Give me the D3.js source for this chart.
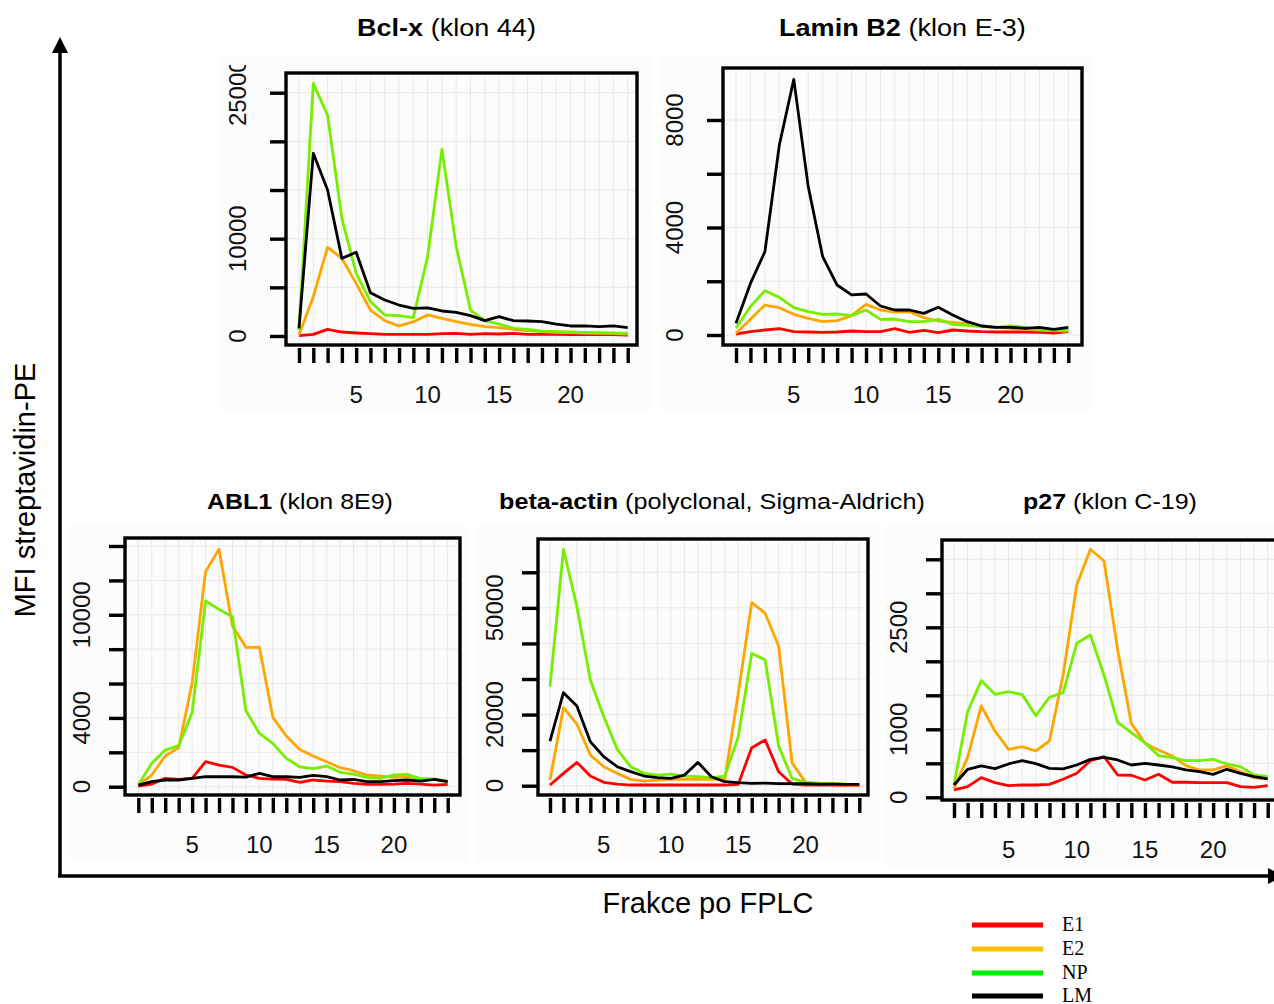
<!DOCTYPE html>
<html>
<head>
<meta charset="utf-8">
<script src="https://cdn.jsdelivr.net/npm/d3@7"></script>
<style>
  body { margin: 0; background: #fff; }
  svg { display: block; font-family: "Liberation Sans", Arial, sans-serif; }
</style>
</head>
<body>
<svg id="chart"></svg>
<script>
// FPLC fractions 1..24
const fractions = [1,2,3,4,5,6,7,8,9,10,11,12,13,14,15,16,17,18,19,20,21,22,23,24];
const fractionLabels = [5, 10, 15, 20];
const seriesNames = ["E1", "E2", "NP", "LM"];

// Bcl-x (klon 44)
const bclE1 = [30,170,685,410,310,240,170,170,170,170,240,270,170,240,205,270,170,170,170,140,170,140,140,100];
const bclE2 = [100,4040,9110,7980,5410,2670,1575,1030,1470,2160,1815,1470,1200,960,860,685,550,445,380,340,310,270,240,205];
const bclNP = [600,25960,22700,12090,6440,3530,2160,2090,1880,8150,19180,9180,2670,1575,1230,790,685,510,445,410,380,340,310,270];
const bclLM = [790,18770,15000,7980,8600,4450,3700,3180,2840,2880,2570,2430,2090,1575,1990,1575,1540,1470,1230,1030,1030,960,1030,860];
const bclTicks = [0,5000,10000,15000,20000,25000];
const bclLabels = [0,10000,25000];

// Lamin B2 (klon E-3)
const laminE1 = [37,124,186,236,124,112,99,112,149,124,124,236,99,174,87,186,149,124,112,112,112,99,74,124];
const laminE2 = [62,583,1116,1017,769,620,496,533,719,1141,930,856,868,645,521,471,409,335,285,248,210,186,161,149];
const laminNP = [248,1054,1650,1400,1017,868,769,781,719,930,583,595,496,496,583,397,360,310,285,335,285,210,186,161];
const laminLM = [434,1920,3100,7070,9510,5520,2915,1860,1490,1525,1080,930,930,806,1030,744,496,335,285,285,248,285,210,285];
const laminTicks = [0,2000,4000,6000,8000];
const laminLabels = [0,4000,8000];

// ABL1 (klon 8E9)
const ablE1 = [40,155,485,425,485,1455,1260,1125,680,485,445,425,250,390,330,290,195,135,135,155,195,155,97,135];
const ablE2 = [97,680,1785,2270,6010,12510,13810,9350,8105,8105,4035,2950,2170,1785,1455,1105,930,680,620,545,580,485,445,290];
const ablNP = [97,1357,2130,2385,4305,10800,10315,9890,4420,3100,2520,1650,1160,1045,1200,835,735,545,485,680,715,445,425,330];
const ablLM = [97,290,390,390,485,580,580,580,560,775,580,580,545,660,580,390,425,290,290,350,390,330,425,290];
const ablTicks = [0,2000,4000,6000,8000,10000,12000,14000];
const ablLabels = [0,4000,10000];

// beta-actin (polyclonal, Sigma-Aldrich)
const actinE1 = [190,3470,6560,2720,940,470,190,190,190,190,190,190,190,190,375,10690,12840,3940,470,190,190,190,100,100];
const actinE2 = [1590,21940,17340,8625,5340,3470,1780,1310,1590,1780,1780,1780,1780,1780,25970,51470,48470,39280,6470,940,660,470,190,190];
const actinNP = [27840,66470,50340,29720,19400,10220,5340,3470,3000,3280,2720,2530,2250,2720,13780,37220,35340,11160,2060,940,660,660,470,375];
const actinLM = [12560,26160,22410,12375,8156,5340,3940,2720,2250,2060,3000,6560,2530,1125,845,660,750,560,560,560,470,470,375,375];
const actinTicks = [0,10000,20000,30000,40000,50000,60000];
const actinLabels = [0,20000,50000];

// p27 (klon C-19)
const p27E1 = [108,157,289,216,172,181,181,191,265,353,539,598,328,324,255,338,221,221,216,216,216,157,147,172];
const p27E2 = [132,588,1343,975,706,745,681,828,1799,3123,3647,3475,2167,1088,794,696,608,466,402,402,461,377,289,270];
const p27NP = [181,1260,1716,1515,1554,1510,1201,1471,1539,2265,2387,1799,1103,951,804,613,583,539,539,559,490,451,328,304];
const p27LM = [181,412,461,422,490,539,495,426,417,475,559,588,549,475,500,475,446,402,377,338,412,353,304,270];
const p27Ticks = [0,500,1000,1500,2000,2500,3000,3500];
const p27Labels = [0,1000,2500];

const lineColors = ["#ff0000", "#ffa500", "#76ee00", "#000000"];
const legendColors = ["#ff0000", "#ffc000", "#00ee00", "#000000"];

const W = 1274, H = 1004;
const svg = d3.select("#chart").attr("width", W).attr("height", H);

const panels = [
  { bold: "Bcl-x", rest: " (klon 44)", tx: [357, 536], ty: 36, tfs: 24,
    bg: [222, 55, 428, 357], box: [286, 73, 637, 345], xr: [299, 627.7],
    yr: [336, 92.7], top: 25000, ticks: bclTicks, labels: bclLabels, lab: 40.5,
    clipTop: 65, series: [bclE1, bclE2, bclNP, bclLM] },
  { bold: "Lamin B2", rest: " (klon E-3)", tx: [779, 1026], ty: 36, tfs: 24,
    bg: [660, 55, 430, 357], box: [723, 68, 1082, 345], xr: [736, 1068.3],
    yr: [335, 120], top: 8000, ticks: laminTicks, labels: laminLabels, lab: 40.5,
    series: [laminE1, laminE2, laminNP, laminLM] },
  { bold: "ABL1", rest: " (klon 8E9)", tx: [207, 393], ty: 509, tfs: 22,
    bg: [66, 526, 402, 336], box: [125, 538, 460, 795], xr: [138.3, 447.7],
    yr: [786.7, 546], top: 14000, ticks: ablTicks, labels: ablLabels, lab: 35,
    series: [ablE1, ablE2, ablNP, ablLM] },
  { bold: "beta-actin", rest: " (polyclonal, Sigma-Aldrich)", tx: [499, 925], ty: 509, tfs: 22,
    bg: [476, 526, 404, 336], box: [538, 539, 868, 795], xr: [550, 859.3],
    yr: [785.7, 572.3], top: 60000, ticks: actinTicks, labels: actinLabels, lab: 35.5,
    series: [actinE1, actinE2, actinNP, actinLM] },
  { bold: "p27", rest: " (klon C-19)", tx: [1023, 1197], ty: 509, tfs: 22,
    bg: [886, 526, 388, 340], box: [942, 540, 1285, 800], xr: [954, 1267.7],
    yr: [797.3, 559.3], top: 3500, ticks: p27Ticks, labels: p27Labels, lab: 35.5,
    series: [p27E1, p27E2, p27NP, p27LM] }
];

panels.forEach((p, pi) => {
  const g = svg.append("g");
  const [bl, bt, br, bb] = p.box;

  g.append("rect")
    .attr("x", p.bg[0]).attr("y", p.bg[1])
    .attr("width", p.bg[2]).attr("height", p.bg[3])
    .attr("fill", "#fcfcfc");

  const x = d3.scaleLinear().domain([1, 24]).range(p.xr);
  const y = d3.scaleLinear().domain([0, p.top]).range(p.yr);

  // grid
  g.append("g").selectAll("line").data(fractions).join("line")
    .attr("x1", d => x(d)).attr("x2", d => x(d))
    .attr("y1", bt).attr("y2", bb)
    .attr("stroke", "#e8e8e8").attr("stroke-width", 1);
  g.append("g").selectAll("line").data(p.ticks).join("line")
    .attr("x1", bl).attr("x2", br)
    .attr("y1", d => y(d)).attr("y2", d => y(d))
    .attr("stroke", "#e8e8e8").attr("stroke-width", 1);

  // lines
  const line = d3.line().x((d, i) => x(fractions[i])).y(d => y(d));
  p.series.forEach((s, si) => {
    g.append("path").datum(s)
      .attr("d", line)
      .attr("fill", "none")
      .attr("stroke", lineColors[si])
      .attr("stroke-width", 2.8)
      .attr("stroke-linejoin", "round");
  });

  // box
  g.append("rect")
    .attr("x", bl).attr("y", bt)
    .attr("width", br - bl).attr("height", bb - bt)
    .attr("fill", "none").attr("stroke", "#000").attr("stroke-width", 3.4);

  // x axis ticks
  const xAxis = g.append("g")
    .attr("transform", `translate(0,${bb + 3})`)
    .call(d3.axisBottom(x).tickValues(fractions).tickSize(15).tickFormat(""));
  xAxis.select(".domain").remove();
  xAxis.selectAll(".tick line").attr("stroke-width", 3.4);

  g.append("g").selectAll("text").data(fractionLabels).join("text")
    .attr("x", d => x(d)).attr("y", bb + 58)
    .attr("text-anchor", "middle")
    .attr("font-size", 24).attr("fill", "#111")
    .text(d => d);

  // y axis ticks
  const yAxis = g.append("g")
    .attr("transform", `translate(${bl - 1},0)`)
    .call(d3.axisLeft(y).tickValues(p.ticks).tickSize(15).tickFormat(""));
  yAxis.select(".domain").remove();
  yAxis.selectAll(".tick line").attr("stroke-width", 3.4);

  let labG = g.append("g");
  if (p.clipTop) {
    svg.append("clipPath").attr("id", "clip" + pi)
      .append("rect").attr("x", 0).attr("y", p.clipTop).attr("width", W).attr("height", H);
    labG.attr("clip-path", `url(#clip${pi})`);
  }
  labG.selectAll("text").data(p.labels).join("text")
    .attr("transform", d => `translate(${bl - p.lab},${y(d)}) rotate(-90)`)
    .attr("text-anchor", "middle")
    .attr("font-size", 24).attr("fill", "#111")
    .text(d => d);

  // title, stretched to the width seen in the figure
  const t = svg.append("text")
    .attr("x", 0).attr("y", 0)
    .attr("font-size", p.tfs).attr("fill", "#000");
  t.append("tspan").attr("font-weight", "bold").text(p.bold);
  t.append("tspan").text(p.rest);
  const w = t.node().getComputedTextLength();
  const sx = (p.tx[1] - p.tx[0]) / w;
  t.attr("transform", `translate(${p.tx[0]},${p.ty}) scale(${sx},1)`);
});

// main axes with arrows
svg.append("line").attr("x1", 60).attr("x2", 60).attr("y1", 50).attr("y2", 877)
  .attr("stroke", "#000").attr("stroke-width", 3.5);
svg.append("path").attr("d", "M52,53 L68,53 L60,37 Z").attr("fill", "#000");
svg.append("line").attr("x1", 58).attr("x2", 1270).attr("y1", 876).attr("y2", 876)
  .attr("stroke", "#000").attr("stroke-width", 3.5);
svg.append("path").attr("d", "M1268,868 L1268,884 L1284,876 Z").attr("fill", "#000");

svg.append("text")
  .attr("transform", "translate(35,490) rotate(-90)")
  .attr("text-anchor", "middle")
  .attr("font-size", 29).attr("fill", "#000")
  .text("MFI streptavidin-PE");

svg.append("text")
  .attr("x", 708).attr("y", 913)
  .attr("text-anchor", "middle")
  .attr("font-size", 29).attr("fill", "#000")
  .text("Frakce po FPLC");

// legend
const legendY = [925, 949, 973, 996];
const leg = svg.append("g");
seriesNames.forEach((n, i) => {
  leg.append("line")
    .attr("x1", 972).attr("x2", 1043)
    .attr("y1", legendY[i]).attr("y2", legendY[i])
    .attr("stroke", legendColors[i]).attr("stroke-width", 5);
  leg.append("text")
    .attr("x", 1062).attr("y", legendY[i] + 6)
    .attr("font-family", "'Liberation Serif', 'Times New Roman', serif")
    .attr("font-size", 20).attr("fill", "#000")
    .text(n);
});
</script>
</body>
</html>
